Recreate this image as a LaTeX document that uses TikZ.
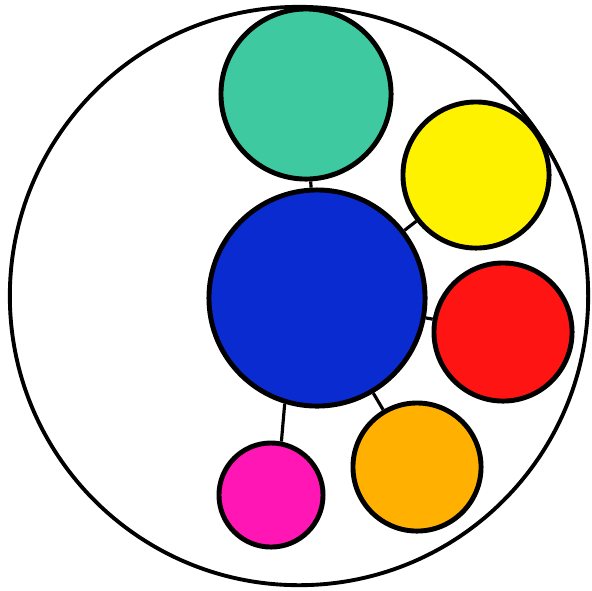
\documentclass[tikz,border=0pt]{standalone}
\usepackage{tikz}
\usepackage{xcolor}
\definecolor{Mint}{HTML}{3FC9A0}
\definecolor{Royal}{HTML}{0A2BD0}
\definecolor{Lemon}{HTML}{FFF200}
\definecolor{Scarlet}{HTML}{FF1414}
\definecolor{Amber}{HTML}{FFB000}
\definecolor{Pink}{HTML}{FF16B4}

\begin{document}
\begin{tikzpicture}[
    x=0.01cm, y=-0.01cm,
    ball/.style={circle, draw=black, line width=1.4pt, inner sep=0pt},
    link/.style={line width=0.9pt}
  ]
    \useasboundingbox (0,0) rectangle (592,590);
    % outer ring
    \node[circle, draw=black, line width=1.1pt, minimum size=5.78cm] (ring) at (299,296) {};

    \node[ball, fill=Royal,   minimum size=2.16cm] (hub)    at (317,298) {};
    \node[ball, fill=Mint,    minimum size=1.70cm] (green)  at (306,94)  {};
    \node[ball, fill=Lemon,   minimum size=1.46cm] (yellow) at (476,175) {};
    \node[ball, fill=Scarlet, minimum size=1.38cm] (red)    at (503,332) {};
    \node[ball, fill=Amber,   minimum size=1.28cm] (orange) at (417,467) {};
    \node[ball, fill=Pink,    minimum size=1.04cm] (pink)   at (271,495) {};

    \draw[link] (hub) -- (green);
    \draw[link] (hub) -- (yellow);
    \draw[link] (hub) -- (red);
    \draw[link] (hub) -- (orange);
    \draw[link] (hub.-107) -- (pink.79);
  \end{tikzpicture}
\end{document}
